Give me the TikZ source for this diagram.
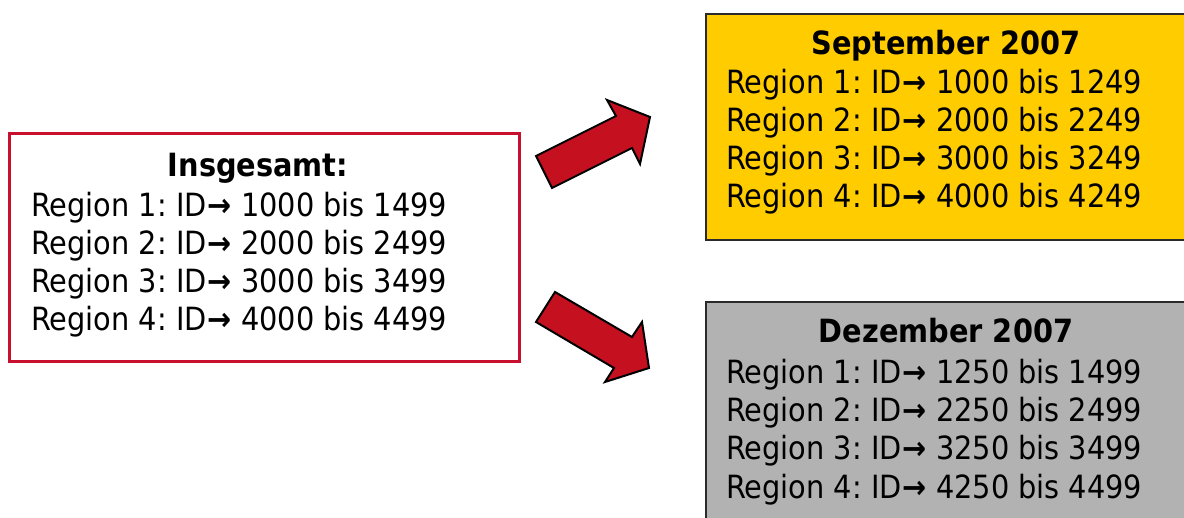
\documentclass[tikz,border=0pt]{standalone}
\usepackage{fontspec}
\setmainfont{DejaVu Sans}[FakeStretch=0.9]
\definecolor{boxred}{HTML}{C8102E}
\definecolor{arrred}{HTML}{C4101F}
\definecolor{sepyellow}{HTML}{FFCC00}
\definecolor{decgray}{HTML}{B2B2B2}
\definecolor{edgegray}{HTML}{2A2A2A}
\newcommand{\idarrow}{\kern1pt{\bfseries →}}
\frenchspacing
\begin{document}
\begin{tikzpicture}[x=1pt,y=-1pt,
  txt/.style={inner sep=0pt, font=\fontsize{32}{38}\selectfont},
  ttl/.style={inner sep=0pt, font=\fontsize{32}{38}\selectfont\bfseries},
  redbox/.style={draw=boxred, line width=3pt, fill=white, inner sep=0pt, anchor=north west},
  colbox/.style={draw=edgegray, line width=2pt, inner sep=0pt, anchor=north west},
  blockarrow/.style={fill=arrred, draw=black, line width=2pt, line join=miter}]
\useasboundingbox (0,0) rectangle (1184,518);
\clip (0,0) rectangle (1184,518);
% boxes
\node[redbox, minimum width=510pt, minimum height=228pt] (total) at (8,132) {};
\node[colbox, fill=sepyellow, minimum width=500pt, minimum height=226pt] (sep) at (705,13) {};
\node[colbox, fill=decgray, minimum width=500pt, minimum height=240pt] (dec) at (705,301) {};
% left box text
\node[ttl, anchor=base] (totT) at (258,177) {Insgesamt:};
\node[txt, anchor=base west] (tot1) at (31,217) {Region 1: ID\idarrow{} 1000 bis 1499};
\node[txt, anchor=base west] (tot2) at (31,255) {Region 2: ID\idarrow{} 2000 bis 2499};
\node[txt, anchor=base west] (tot3) at (31,293) {Region 3: ID\idarrow{} 3000 bis 3499};
\node[txt, anchor=base west] (tot4) at (31,331) {Region 4: ID\idarrow{} 4000 bis 4499};
% September
\node[ttl, anchor=base] (sepT) at (946,55) {September 2007};
\node[txt, anchor=base west] (sep1) at (726,94) {Region 1: ID\idarrow{} 1000 bis 1249};
\node[txt, anchor=base west] (sep2) at (726,132) {Region 2: ID\idarrow{} 2000 bis 2249};
\node[txt, anchor=base west] (sep3) at (726,170) {Region 3: ID\idarrow{} 3000 bis 3249};
\node[txt, anchor=base west] (sep4) at (726,208) {Region 4: ID\idarrow{} 4000 bis 4249};
% Dezember
\node[ttl, anchor=base] (decT) at (946,343) {Dezember 2007};
\node[txt, anchor=base west] (dec1) at (726,384) {Region 1: ID\idarrow{} 1250 bis 1499};
\node[txt, anchor=base west] (dec2) at (726,422) {Region 2: ID\idarrow{} 2250 bis 2499};
\node[txt, anchor=base west] (dec3) at (726,460) {Region 3: ID\idarrow{} 3250 bis 3499};
\node[txt, anchor=base west] (dec4) at (726,498) {Region 4: ID\idarrow{} 4250 bis 4499};
% block arrows
\draw[blockarrow] (536,156) -- (616,116) -- (607,100) -- (650,117) -- (640,164) -- (632,148) -- (552,188) -- cycle;
\draw[blockarrow] (555,292) -- (632,337) -- (642,322) -- (649,368) -- (605,382) -- (614,368) -- (536,322) -- cycle;
\end{tikzpicture}
\end{document}
